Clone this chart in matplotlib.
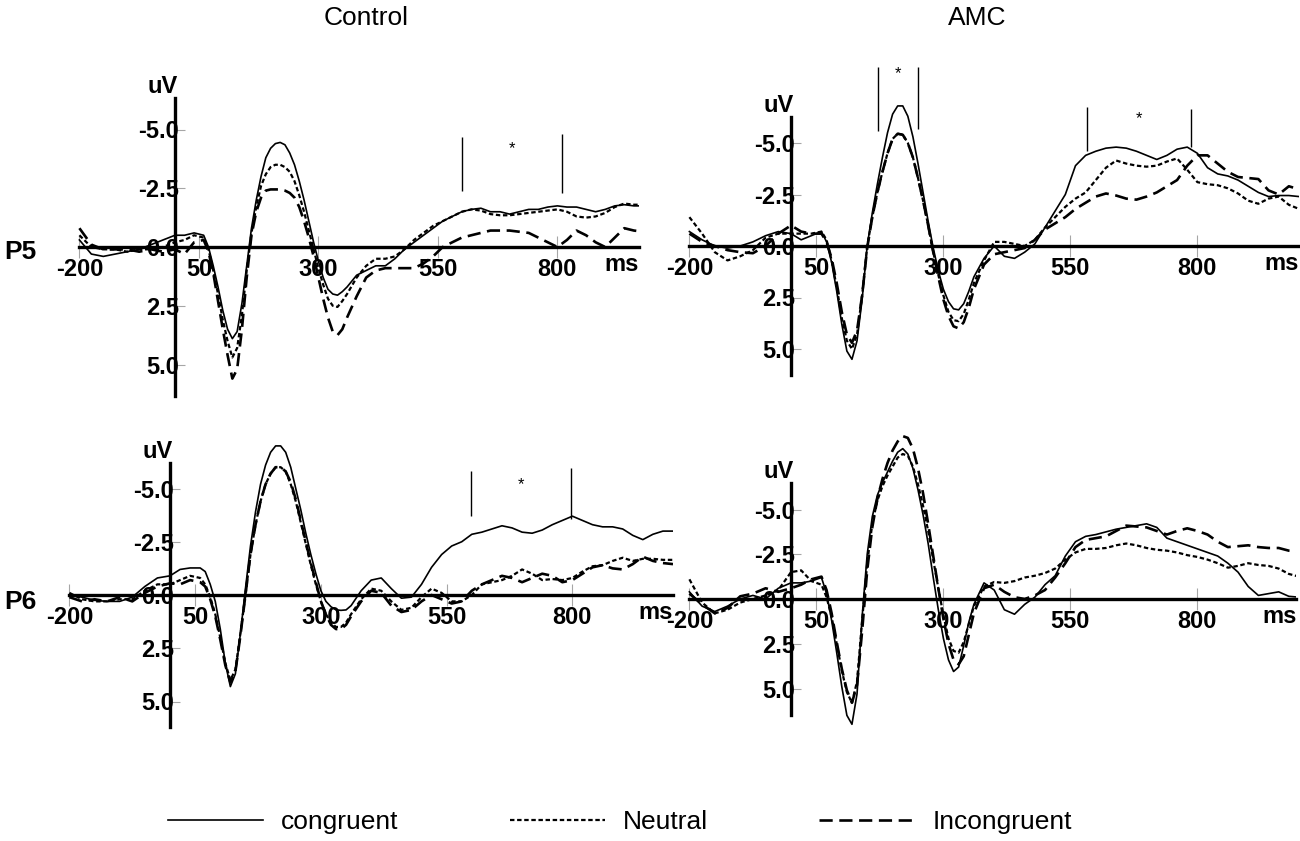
import matplotlib.pyplot as plt

plt.rcParams['font.family'] = ['Liberation Sans', 'DejaVu Sans']

W, H = 1300, 841

# sampling times (ms)
t_ms = ([-200, -175, -150, -125, -100, -75, -50, -25, 0, 20, 40, 60]
        + list(range(70, 361, 10)) + list(range(380, 1001, 20)))

# P5 - Control (uV, negative up)
p5_ctrl_congruent = [-0.3, 0.3, 0.4, 0.3, 0.2, 0.1, -0.1, -0.3, -0.5, -0.5, -0.6, -0.5,
                     0.0, 0.8, 1.7, 2.7, 3.5, 3.9, 3.6, 2.4, 0.8, -0.8, -2.0, -3.0, -3.8, -4.2, -4.4, -4.45, -4.35, -4.0, -3.5, -2.8,
                     -2.0, -1.1, -0.2, 0.6, 1.3, 1.8, 2.0, 2.05, 1.9, 1.7,
                     1.2, 1.0, 0.8, 0.8, 0.5, 0.1, -0.2, -0.5, -0.8, -1.1, -1.3, -1.5, -1.6, -1.65, -1.5, -1.5, -1.4, -1.5, -1.6, -1.6,
                     -1.7, -1.75, -1.7, -1.7, -1.6, -1.5, -1.6, -1.75, -1.8, -1.75, -1.75, -1.75]
p5_ctrl_neutral = [-0.5, 0.0, 0.1, 0.1, 0.2, 0.1, 0.1, 0.0, -0.2, -0.3, -0.5, -0.4,
                   0.1, 1.0, 2.0, 3.1, 4.0, 4.7, 4.3, 2.9, 1.0, -0.6, -1.7, -2.6, -3.1, -3.4, -3.5, -3.5, -3.4, -3.2, -2.8, -2.2,
                   -1.5, -0.7, 0.1, 0.9, 1.6, 2.2, 2.5, 2.55, 2.3, 2.0,
                   1.3, 0.8, 0.5, 0.5, 0.4, 0.1, -0.3, -0.6, -0.9, -1.1, -1.3, -1.5, -1.6, -1.55, -1.4, -1.35, -1.35, -1.4, -1.45, -1.5,
                   -1.55, -1.6, -1.5, -1.3, -1.25, -1.3, -1.45, -1.7, -1.85, -1.8, -1.8, -1.75]
p5_ctrl_incongruent = [-0.8, -0.1, 0.1, 0.1, 0.1, 0.2, 0.1, 0.2, 0.1, 0.3, -0.2, -0.3,
                       0.2, 1.1, 2.3, 3.5, 4.6, 5.6, 5.2, 3.5, 1.3, -0.5, -1.5, -2.1, -2.4, -2.45, -2.45, -2.45, -2.4, -2.3, -2.1, -1.7,
                       -1.1, -0.4, 0.4, 1.3, 2.2, 3.0, 3.6, 3.75, 3.5, 3.0,
                       2.1, 1.3, 1.0, 0.9, 0.9, 0.9, 0.9, 0.7, 0.4, 0.0, -0.2, -0.4, -0.5, -0.6, -0.7, -0.7, -0.7, -0.65, -0.6, -0.4,
                       -0.2, 0.0, -0.3, -0.7, -0.5, -0.2, 0.0, -0.4, -0.8, -0.7, -0.65, -0.65]

# P5 - AMC
p5_amc_congruent = [-0.7, -0.3, 0.0, 0.1, 0.0, -0.2, -0.5, -0.7, -0.6, -0.3, -0.5, -0.7,
                    -0.2, 0.8, 2.2, 3.8, 5.1, 5.5, 4.6, 2.6, 0.0, -1.6, -3.0, -4.3, -5.5, -6.4, -6.8, -6.8, -6.3, -5.3, -4.0, -2.6,
                    -1.2, 0.1, 1.2, 2.1, 2.7, 3.05, 3.1, 2.8, 2.2, 1.5,
                    0.6, 0.0, 0.5, 0.6, 0.3, -0.1, -0.9, -1.7, -2.5, -3.9, -4.4, -4.6, -4.75, -4.8, -4.75, -4.6, -4.4, -4.2, -4.4, -4.7,
                    -4.8, -4.5, -3.8, -3.5, -3.4, -3.2, -2.9, -2.6, -2.4, -2.45, -2.45, -2.4]
p5_amc_neutral = [-1.4, -0.6, 0.3, 0.7, 0.5, 0.2, -0.4, -0.6, -0.6, -0.6, -0.6, -0.7,
                  -0.3, 0.7, 2.0, 3.5, 4.6, 5.0, 4.3, 2.4, 0.0, -1.4, -2.6, -3.6, -4.5, -5.2, -5.45, -5.4, -5.0, -4.3, -3.3, -2.2,
                  -1.0, 0.3, 1.4, 2.4, 3.2, 3.6, 3.65, 3.3, 2.6, 1.8,
                  0.7, -0.2, -0.2, -0.1, 0.0, -0.3, -0.9, -1.4, -1.9, -2.3, -2.6, -3.2, -3.8, -4.15, -4.0, -3.9, -3.85, -3.9, -4.1, -4.25,
                  -3.7, -3.1, -3.0, -2.95, -2.8, -2.55, -2.2, -2.05, -2.3, -2.4, -2.0, -1.8]
p5_amc_incongruent = [-0.6, -0.2, 0.0, 0.2, 0.3, 0.35, 0.0, -0.6, -1.0, -0.7, -0.6, -0.6,
                      -0.2, 0.6, 1.8, 3.2, 4.3, 4.7, 4.1, 2.4, 0.1, -1.4, -2.6, -3.6, -4.5, -5.2, -5.45, -5.4, -5.0, -4.3, -3.3, -2.2,
                      -1.0, 0.3, 1.5, 2.6, 3.4, 3.9, 4.0, 3.7, 3.0, 2.1,
                      0.9, 0.4, 0.3, 0.2, 0.1, -0.3, -0.8, -1.1, -1.4, -1.8, -2.1, -2.4, -2.55, -2.45, -2.3, -2.25, -2.4, -2.6, -2.9, -3.2,
                      -3.9, -4.4, -4.4, -4.0, -3.6, -3.35, -3.3, -3.25, -2.7, -2.5, -2.9, -2.75]

# P6 - Control
p6_ctrl_congruent = [0.0, 0.1, 0.25, 0.3, 0.3, 0.1, -0.4, -0.8, -0.9, -1.2, -1.27, -1.27,
                     -1.1, -0.5, 0.3, 1.6, 3.2, 4.3, 3.7, 1.8, -0.3, -2.3, -3.9, -5.2, -6.1, -6.7, -7.0, -7.0, -6.7, -6.0, -5.0, -4.0,
                     -2.9, -1.9, -1.0, -0.2, 0.3, 0.55, 0.7, 0.72, 0.7, 0.5,
                     -0.2, -0.7, -0.8, -0.3, 0.15, 0.1, -0.5, -1.3, -1.9, -2.3, -2.5, -2.85, -2.95, -3.1, -3.25, -3.15, -2.95, -2.9, -3.05, -3.3,
                     -3.5, -3.7, -3.5, -3.3, -3.2, -3.2, -3.1, -2.8, -2.6, -2.85, -3.0, -3.0]
p6_ctrl_neutral = [-0.1, 0.2, 0.3, 0.3, 0.2, 0.2, -0.2, -0.5, -0.5, -0.7, -0.9, -0.8,
                   -0.5, 0.1, 0.9, 2.0, 3.2, 4.0, 3.5, 1.8, 0.0, -1.9, -3.3, -4.4, -5.2, -5.7, -6.0, -6.0, -5.8, -5.2, -4.4, -3.4,
                   -2.4, -1.4, -0.5, 0.3, 0.9, 1.3, 1.5, 1.5, 1.3, 0.9,
                   0.2, -0.3, -0.2, 0.3, 0.7, 0.6, 0.1, -0.3, -0.1, 0.3, 0.3, 0.0, -0.5, -0.6, -0.7, -0.9, -1.2, -1.0, -0.7, -0.75,
                   -0.7, -0.8, -1.1, -1.35, -1.4, -1.6, -1.75, -1.6, -1.7, -1.7, -1.65, -1.65]
p6_ctrl_incongruent = [0.1, 0.3, 0.2, 0.3, 0.1, 0.3, -0.1, -0.4, -0.55, -0.5, -0.7, -0.6,
                       -0.4, 0.2, 1.0, 2.1, 3.3, 4.1, 3.6, 1.9, 0.0, -1.9, -3.3, -4.4, -5.2, -5.7, -6.0, -6.0, -5.8, -5.3, -4.5, -3.5,
                       -2.5, -1.5, -0.6, 0.3, 0.9, 1.4, 1.6, 1.6, 1.4, 1.0,
                       0.3, -0.2, -0.1, 0.5, 0.8, 0.7, 0.3, 0.0, 0.2, 0.4, 0.3, -0.2, -0.5, -0.7, -0.9, -0.8, -0.6, -0.8, -1.0, -0.9,
                       -0.6, -0.7, -1.0, -1.3, -1.4, -1.25, -1.2, -1.45, -1.8, -1.6, -1.5, -1.45]

# P6 - AMC
p6_amc_congruent = [-0.4, 0.4, 0.7, 0.4, 0.0, -0.2, 0.0, -0.6, -0.9, -0.9, -1.0, -1.2,
                    -0.3, 1.2, 3.0, 4.9, 6.5, 7.0, 5.3, 1.0, -2.5, -4.6, -5.8, -6.5, -7.1, -7.7, -8.2, -8.4, -8.1, -7.3, -6.1, -4.7,
                    -3.1, -1.2, 0.6, 2.2, 3.4, 4.05, 3.8, 2.6, 1.3, 0.3,
                    -0.9, -0.5, 0.6, 0.85, 0.3, -0.1, -0.8, -1.3, -2.4, -3.2, -3.5, -3.6, -3.75, -3.9, -4.0, -4.1, -4.2, -4.0, -3.4, -3.2,
                    -3.0, -2.8, -2.6, -2.4, -2.0, -1.5, -0.7, -0.2, -0.3, -0.4, -0.15, -0.1]
p6_amc_neutral = [-1.1, 0.2, 0.8, 0.6, 0.2, 0.0, -0.2, -0.5, -1.5, -1.6, -1.0, -0.8,
                  -0.1, 1.0, 2.5, 4.0, 5.2, 5.8, 4.6, 1.2, -2.0, -4.2, -5.5, -6.3, -6.9, -7.4, -7.9, -8.1, -8.0, -7.4, -6.4, -5.2,
                  -3.8, -2.2, -0.6, 0.9, 2.2, 2.9, 3.0, 2.4, 1.4, 0.4,
                  -0.7, -0.95, -0.9, -1.0, -1.2, -1.3, -1.45, -1.7, -2.2, -2.6, -2.8, -2.8, -2.85, -3.0, -3.1, -3.0, -2.85, -2.75, -2.7, -2.6,
                  -2.45, -2.35, -2.2, -2.0, -1.75, -1.85, -2.0, -1.9, -1.85, -1.7, -1.4, -1.25]
p6_amc_incongruent = [-0.3, 0.3, 0.8, 0.5, -0.15, -0.3, -0.6, -0.4, -0.6, -0.8, -1.1, -1.25,
                      -0.5, 0.8, 2.4, 3.9, 5.1, 5.8, 4.8, 1.8, -1.6, -4.0, -5.6, -6.7, -7.6, -8.3, -8.8, -9.1, -9.0, -8.4, -7.3, -5.9,
                      -4.2, -2.4, -0.6, 1.1, 2.5, 3.4, 3.65, 3.2, 2.0, 0.8,
                      -0.6, -0.8, -0.4, -0.1, 0.0, -0.2, -0.5, -1.2, -2.0, -2.9, -3.3, -3.4, -3.5, -3.8, -4.1, -4.05, -4.0, -3.8, -3.6, -3.8,
                      -3.95, -3.8, -3.6, -3.2, -2.9, -2.95, -3.0, -2.9, -2.85, -2.85, -2.7, -2.65]

# significance windows: (start ms, end ms, bar1 top, bar1 bottom, bar2 top, bar2 bottom, star uV)
p5_ctrl_sig = [(601, 810, -4.67, -2.38, -4.8, -2.28, -4.2)]
p5_amc_sig = [(171, 250, -8.7, -5.6, -8.7, -5.7, -8.35),
              (582, 787, -6.74, -4.6, -6.66, -4.8, -6.18)]
p6_ctrl_sig = [(599, 798, -5.84, -3.73, -5.95, -3.57, -5.16)]
p6_amc_sig = []

x_ticks = [-200, 50, 300, 550, 800]
y_ticks = [-5.0, -2.5, 0.0, 2.5, 5.0]
cond_labels = ['congruent', 'Neutral', 'Incongruent']

fig = plt.figure(figsize=(W / 100, H / 100), dpi=100)

# pixel geometry of each panel: zero ms x, px per ms, zero uV y, px per uV, axis end, half y span
panels = [
    (175, 0.478, 247, 23.5, 970, 6.35, [p5_ctrl_congruent, p5_ctrl_neutral, p5_ctrl_incongruent], p5_ctrl_sig),
    (791, 0.508, 246, 20.6, 1000, 6.26, [p5_amc_congruent, p5_amc_neutral, p5_amc_incongruent], p5_amc_sig),
    (170, 0.503, 595, 21.3, 1000, 6.22, [p6_ctrl_congruent, p6_ctrl_neutral, p6_ctrl_incongruent], p6_ctrl_sig),
    (791, 0.508, 599, 17.9, 995, 6.5, [p6_amc_congruent, p6_amc_neutral, p6_amc_incongruent], p6_amc_sig),
]

styles = [dict(lw=1.2, linestyle='-'),
          dict(lw=1.6, linestyle=(0, (2.0, 1.2))),
          dict(lw=1.9, linestyle=(0, (5.0, 2.5)))]

y_lo, y_hi = 8.5, -10.5
handles = None
for x0, pxms, y0, pxuv, xend, yspan, series, sig in panels:
    x_lo = -260
    left = (x0 + x_lo * pxms) / W
    width = (xend - x_lo) * pxms / W
    bot_px = y0 + y_lo * pxuv
    top_px = y0 + y_hi * pxuv
    ax = fig.add_axes([left, 1 - bot_px / H, width, (bot_px - top_px) / H])
    ax.patch.set_visible(False)
    ax.set_xlim(x_lo, xend)
    ax.set_ylim(y_lo, y_hi)

    lines = []
    for vals, st in zip(series, styles):
        ln, = ax.plot(t_ms, vals, color='black', **st)
        lines.append(ln)
    if handles is None:
        handles = lines

    for t1, t2, a1, b1, a2, b2, sy in sig:
        ax.vlines(t1, a1, b1, color='black', lw=1.0)
        ax.vlines(t2, a2, b2, color='black', lw=1.0)
        ax.text((t1 + t2) / 2, sy, '*', ha='center', va='center', fontsize=12)

    for side in ['top', 'right']:
        ax.spines[side].set_visible(False)
    ax.spines['left'].set_position(('data', 0))
    ax.spines['bottom'].set_position(('data', 0))
    ax.spines['left'].set_bounds(-yspan, yspan)
    ax.spines['bottom'].set_bounds(-200, xend)
    ax.spines['left'].set_linewidth(2.4)
    ax.spines['bottom'].set_linewidth(2.4)

    ax.set_xticks(x_ticks)
    ax.set_xticklabels([str(v) for v in x_ticks], fontweight='bold')
    ax.set_yticks(y_ticks)
    ax.set_yticklabels(['%.1f' % v for v in y_ticks], fontweight='bold')
    ax.tick_params(axis='x', direction='inout', length=16, width=0.8, color='0.65',
                   pad=0, labelsize=17)
    ax.tick_params(axis='y', direction='in', length=7, width=0.8, color='0.65',
                   pad=-3, labelsize=17)

    ax.annotate('ms', xy=(xend, 0), xytext=(0, -4), textcoords='offset points',
                ha='right', va='top', fontsize=17, fontweight='bold')
    ax.annotate('uV', xy=(0, -yspan), xytext=(2, 0), textcoords='offset points',
                ha='right', va='bottom', fontsize=17, fontweight='bold')

fig.text(366 / W, 1 - 18 / H, 'Control', ha='center', va='center', fontsize=19)
fig.text(977 / W, 1 - 18 / H, 'AMC', ha='center', va='center', fontsize=19)
fig.text(4 / W, 1 - 252 / H, 'P5', ha='left', va='center', fontsize=19, fontweight='bold')
fig.text(4 / W, 1 - 602 / H, 'P6', ha='left', va='center', fontsize=19, fontweight='bold')

fig.legend(handles, cond_labels, loc='center', bbox_to_anchor=(620 / W, 1 - 822 / H),
           ncol=3, frameon=False, fontsize=19, handlelength=3.6,
           columnspacing=4.2, handletextpad=0.7)

fig.savefig('out.png', dpi=100)
